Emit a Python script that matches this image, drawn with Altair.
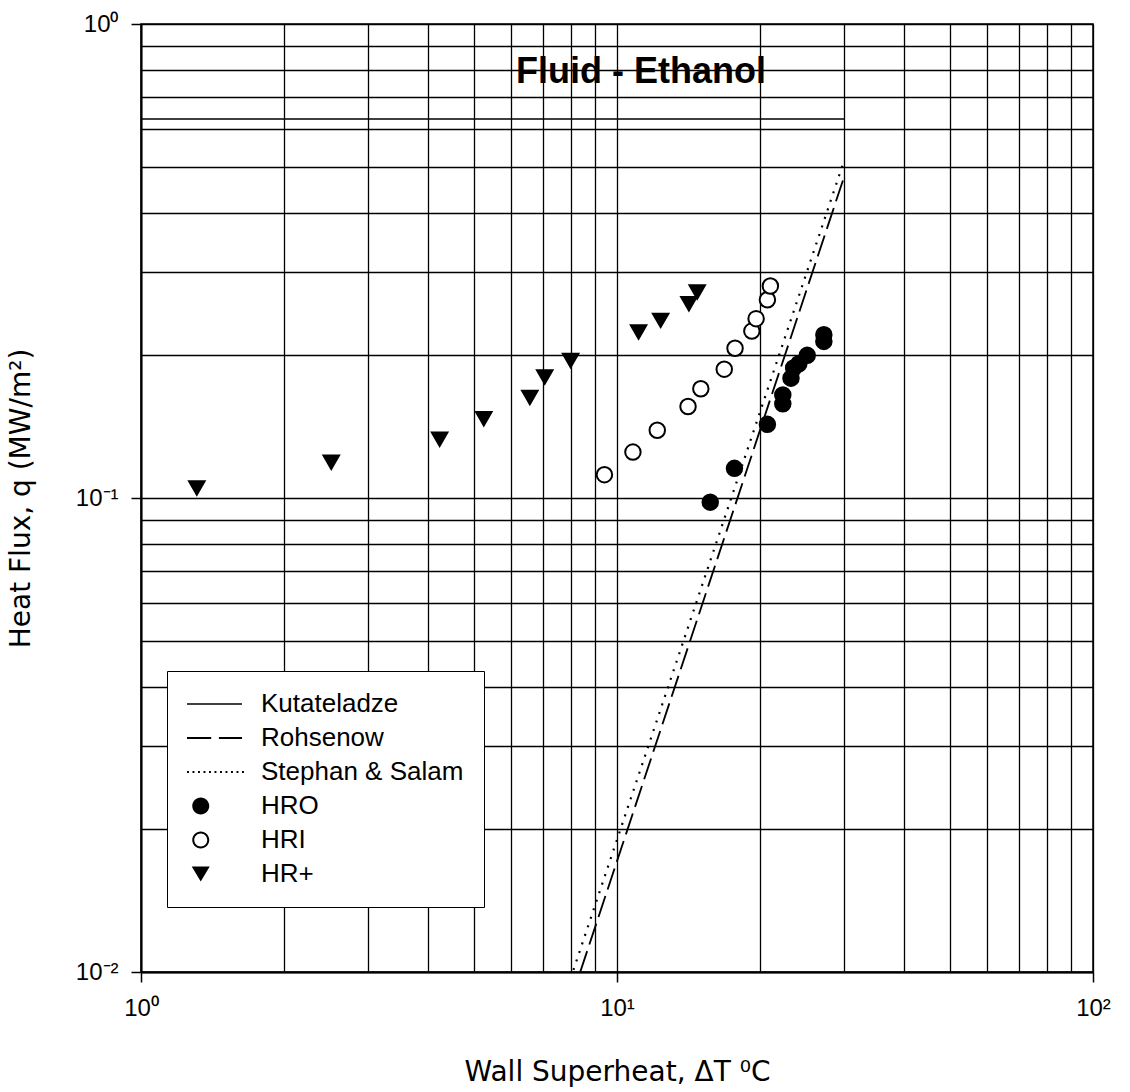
import altair as alt
import pandas as pd

# Boiling data: wall superheat (deg C) vs heat flux (MW/m^2)
hro_dt = [15.7, 17.65, 20.7, 22.3, 22.3, 23.2, 23.5, 24.1, 25.1, 27.2, 27.2]
hro_q = [0.098, 0.1155, 0.143, 0.158, 0.165, 0.179, 0.188, 0.192, 0.200, 0.214, 0.221]

hri_dt = [9.41, 10.8, 12.15, 14.1, 15.0, 16.8, 17.7, 19.2, 19.6, 20.7, 21.0]
hri_q = [0.112, 0.125, 0.139, 0.156, 0.170, 0.187, 0.207, 0.225, 0.239, 0.262, 0.280]

hrp_dt = [1.31, 2.51, 4.24, 5.25, 6.56, 7.05, 7.99, 11.1, 12.35, 14.16, 14.74]
hrp_q = [0.105, 0.119, 0.133, 0.147, 0.163, 0.180, 0.195, 0.224, 0.237, 0.257, 0.272]

# Correlation curves (straight lines on log-log axes, end points)
kut_dt = [1.0, 30.0]
kut_q = [0.63, 0.63]
roh_dt = [8.37, 30.0]
roh_q = [0.01, 0.476]
ss_dt = [8.1, 30.0]
ss_q = [0.0101, 0.515]

series_names = ["HRO", "HRI", "HR+"]
curve_names = ["Kutateladze", "Rohsenow", "Stephan & Salam"]
legend_names = curve_names + series_names

x_ticks = [1, 2, 3, 4, 5, 6, 7, 8, 9, 10, 20, 30, 40, 50, 60, 70, 80, 90, 100]
y_ticks = [0.01, 0.02, 0.03, 0.04, 0.05, 0.06, 0.07, 0.08, 0.09,
           0.1, 0.2, 0.3, 0.4, 0.5, 0.6, 0.7, 0.8, 0.9, 1]

points = pd.DataFrame({
    "dT": hro_dt + hri_dt + hrp_dt,
    "q": hro_q + hri_q + hrp_q,
    "series": ["HRO"] * len(hro_dt) + ["HRI"] * len(hri_dt) + ["HR+"] * len(hrp_dt),
})

curves = pd.DataFrame({
    "dT": kut_dt + roh_dt + ss_dt,
    "q": kut_q + roh_q + ss_q,
    "series": ["Kutateladze"] * 2 + ["Rohsenow"] * 2 + ["Stephan & Salam"] * 2,
})

# rows without coordinates: they only feed the legend
legend_rows = pd.DataFrame({
    "legend": legend_names,
    "dT": [None] * len(legend_names),
    "q": [None] * len(legend_names),
})

FONT = "Liberation Sans"
TITLE_FONT = "DejaVu Sans"

# legend glyphs as filled SVG paths in unit coordinates (scaled by sqrt(size)/2)
def bar(x0, x1, h):
    return f"M{x0:.3f},{-h:.3f}L{x1:.3f},{-h:.3f}L{x1:.3f},{h:.3f}L{x0:.3f},{h:.3f}Z"

def dots():
    return "".join(bar(i * 0.2 - 1, i * 0.2 - 1 + 0.07, 0.036) for i in range(11))

def circle(cx, r, sweep):
    return (f"M{cx - r:.3f},0A{r},{r} 0 1,{sweep} {cx + r:.3f},0"
            f"A{r},{r} 0 1,{sweep} {cx - r:.3f},0Z")

legend_paths = [
    bar(-1, 1, 0.027),
    bar(-1, -0.12, 0.04) + bar(0.16, 1, 0.04),
    dots(),
    circle(-0.5, 0.309, 1),
    circle(-0.5, 0.309, 1) + circle(-0.5, 0.236, 0),
    "M-0.827,-0.273L-0.173,-0.273L-0.5,0.273Z",
]

x_scale = alt.Scale(type="log", domain=[1, 100], nice=False)
y_scale = alt.Scale(type="log", domain=[0.01, 1], nice=False)

x_major = "datum.value == 1 || datum.value == 10 || datum.value == 100"
y_major = "datum.value == 1 || datum.value == 0.1 || datum.value == 0.01"

x_axis = alt.Axis(
    values=x_ticks,
    labelExpr="datum.value == 1 ? '10⁰' : datum.value == 10 ? '10¹' : datum.value == 100 ? '10²' : ''",
    title="Wall Superheat, ΔT ⁰C",
    grid=True, gridColor="black", gridWidth=1.3, gridOpacity=1,
    domainColor="black", domainWidth=2,
    tickSize=10, tickWidth=1.5,
    tickColor={"condition": {"test": x_major, "value": "black"}, "value": "transparent"},
    labelFlush=False, labelOverlap=False, labelBound=False,
    labelFont=FONT, labelFontSize=24, labelColor="black", labelPadding=14,
    titleFont=TITLE_FONT, titleFontSize=28, titleFontWeight="normal", titleColor="black",
    titleX=476, titleY=108, titleBaseline="alphabetic",
)

y_axis = alt.Axis(
    values=y_ticks,
    labelExpr="datum.value == 1 ? '10⁰' : datum.value == 0.1 ? '10⁻¹' : datum.value == 0.01 ? '10⁻²' : ''",
    title="Heat Flux, q (MW/m²)",
    grid=True, gridColor="black", gridWidth=1.3, gridOpacity=1,
    domainColor="black", domainWidth=2,
    tickSize=10, tickWidth=1.5,
    tickColor={"condition": {"test": y_major, "value": "black"}, "value": "transparent"},
    labelOverlap=False, labelBound=False,
    labelFont=FONT, labelFontSize=24, labelColor="black", labelPadding=13,
    titleFont=TITLE_FONT, titleFontSize=28, titleFontWeight="normal", titleColor="black",
    titleX=-120, titleY=474, titleBaseline="middle", titleAngle=-90,
)

curve_layer = alt.Chart(curves).mark_line(color="black", clip=True).encode(
    x=alt.X("dT:Q", scale=x_scale, axis=x_axis),
    y=alt.Y("q:Q", scale=y_scale, axis=y_axis),
    detail="series:N",
    strokeDash=alt.StrokeDash(
        "series:N",
        scale=alt.Scale(domain=curve_names, range=[[1, 0], [22, 7], [2, 7]]),
        legend=None,
    ),
    strokeWidth=alt.StrokeWidth(
        "series:N",
        scale=alt.Scale(domain=curve_names, range=[1.5, 2.2, 2.0]),
        legend=None,
    ),
)

point_layer = alt.Chart(points).mark_point(
    stroke="black", strokeWidth=2, size=240, opacity=1
).encode(
    x=alt.X("dT:Q", scale=x_scale),
    y=alt.Y("q:Q", scale=y_scale),
    shape=alt.Shape(
        "series:N",
        scale=alt.Scale(domain=series_names, range=["circle", "circle", "triangle-down"]),
        legend=None,
    ),
    fill=alt.Fill(
        "series:N",
        scale=alt.Scale(domain=series_names, range=["black", "white", "black"]),
        legend=None,
    ),
)

legend_layer = alt.Chart(legend_rows).mark_point(
    filled=True, fill="black", strokeWidth=0, opacity=1
).encode(
    x=alt.X("dT:Q", scale=x_scale),
    y=alt.Y("q:Q", scale=y_scale),
    shape=alt.Shape(
        "legend:N",
        scale=alt.Scale(domain=legend_names, range=legend_paths),
        legend=alt.Legend(
            title=None, orient="none", legendX=26, legendY=647,
            symbolSize=3025, symbolStrokeWidth=0,
            symbolFillColor="black", symbolOpacity=1,
            labelFont=FONT, labelFontSize=26, labelColor="black", labelOffset=19,
            labelLimit=0, clipHeight=26, rowPadding=8, padding=20,
            strokeColor="black", fillColor="white",
        ),
    ),
)

chart = alt.layer(curve_layer, point_layer, legend_layer).resolve_scale(
    shape="independent", fill="independent",
    strokeDash="independent", strokeWidth="independent",
).properties(
    width=952, height=948,
    title=alt.Title(
        "Fluid - Ethanol", font=FONT, fontSize=36, fontWeight="bold", color="black",
        anchor="middle", frame="group", offset=0, dx=24, dy=107, baseline="alphabetic",
    ),
    autosize=alt.AutoSizeParams(type="none"),
    padding={"left": 141, "top": 24, "right": 37, "bottom": 120},
    background="white",
).configure_view(stroke="black", strokeWidth=1.5)

chart.save("out.html", embed_options={"renderer": "svg", "actions": False})
